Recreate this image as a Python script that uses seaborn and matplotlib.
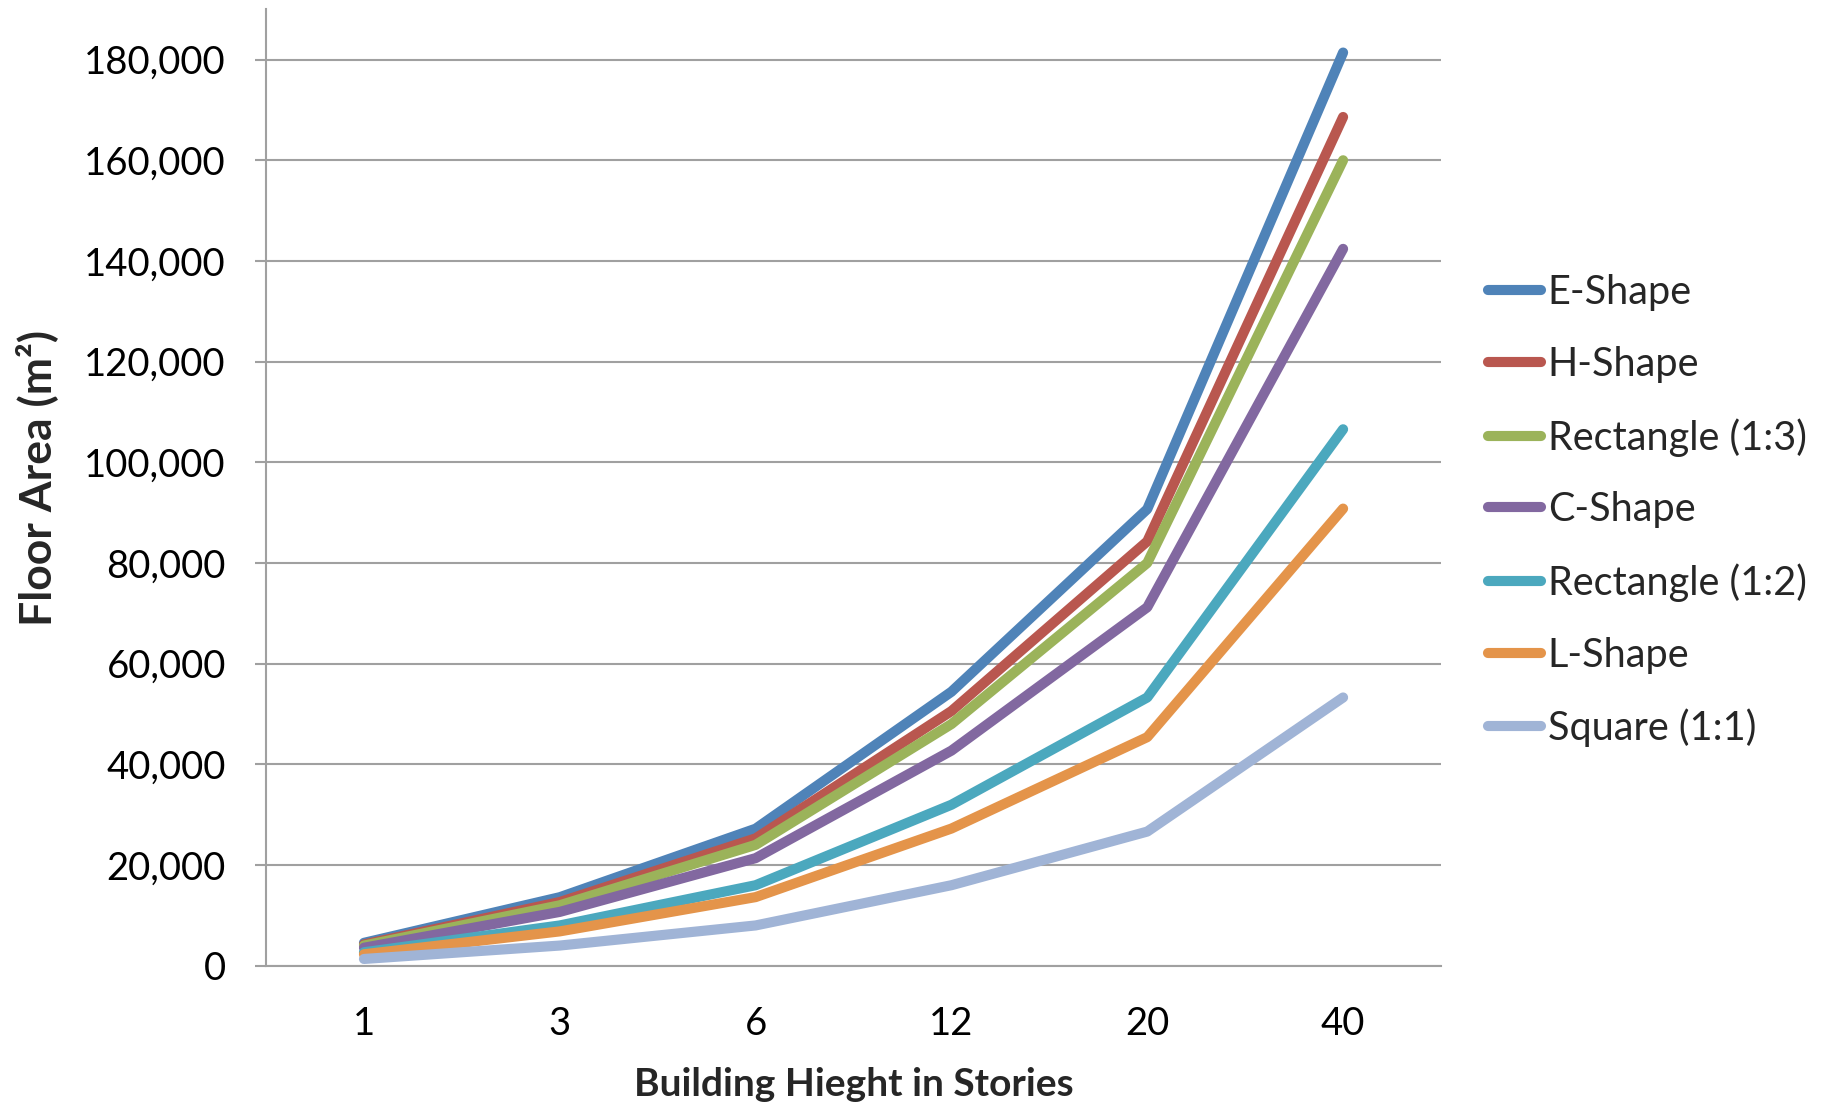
import matplotlib
matplotlib.use("Agg")
import matplotlib.pyplot as plt
import seaborn as sns
import pandas as pd
import numpy as np
from matplotlib.ticker import FuncFormatter, FixedLocator

# Building height categories (number of stories)
stories = ["1", "3", "6", "12", "20", "40"]

# Total floor area (m²) per footprint shape
e_shape = [4535, 13605, 27210, 54420, 90700, 181400]
h_shape = [4215, 12645, 25290, 50580, 84300, 168600]
rect_13 = [4000, 12000, 24000, 48000, 80000, 160000]
c_shape = [3560, 10680, 21360, 42720, 71200, 142400]
rect_12 = [2664, 7992, 15984, 31968, 53280, 106560]
l_shape = [2270, 6810, 13620, 27240, 45400, 90800]
square_11 = [1332, 3996, 7992, 15984, 26640, 53280]

series_names = ["E-Shape", "H-Shape", "Rectangle (1:3)", "C-Shape",
                "Rectangle (1:2)", "L-Shape", "Square (1:1)"]
series_values = [e_shape, h_shape, rect_13, c_shape, rect_12, l_shape, square_11]
colors = ["#4F83B8", "#B9574F", "#9BB35A", "#8268A0",
          "#4BA8BE", "#E4944A", "#A0B4D6"]

rows = []
for name, vals in zip(series_names, series_values):
    for i, v in enumerate(vals):
        rows.append({"pos": i, "Stories": stories[i], "Area": v, "Shape": name})
df = pd.DataFrame(rows)

sns.set_theme(style="white")
plt.rcParams["font.family"] = ["Lato", "DejaVu Sans"]

fig = plt.figure(figsize=(18.31, 11.04), dpi=100)
ax = fig.add_axes([0.1453, 0.1253, 0.787 - 0.1453, 0.9916 - 0.1253])

sns.lineplot(data=df, x="pos", y="Area", hue="Shape", hue_order=series_names,
             palette=colors, linewidth=7.3, sort=False, ax=ax, legend=True)
for ln in ax.get_lines():
    ln.set_solid_capstyle("round")
    ln.set_solid_joinstyle("round")

grid_c = "#A0A0A0"
ax.set_xlim(-0.5, 5.5)
ax.set_ylim(0, 190000)
ax.set_yticks(np.arange(0, 180001, 20000))
ax.yaxis.set_major_formatter(FuncFormatter(lambda v, p: f"{int(v):,}"))
ax.yaxis.grid(True, color=grid_c, linewidth=1.5)
ax.set_axisbelow(True)

ax.set_xticks(range(len(stories)))
ax.set_xticklabels(stories)
ax.xaxis.set_minor_locator(FixedLocator(np.arange(-0.5, 5.6, 1.0)))
ax.tick_params(axis="x", which="major", length=0, pad=29, labelsize=27.5, colors="black")
ax.tick_params(axis="x", which="minor", length=8, width=1.5, color=grid_c, direction="out")
ax.tick_params(axis="y", which="major", length=8, width=1.5, color=grid_c, direction="out",
               pad=21, labelsize=27.5, labelcolor="black", left=True)

for s in ["top", "right"]:
    ax.spines[s].set_visible(False)
for s in ["left", "bottom"]:
    ax.spines[s].set_color(grid_c)
    ax.spines[s].set_linewidth(1.5)

ax.set_xlabel("Building Hieght in Stories", fontsize=28, fontweight="bold", labelpad=0)
ax.set_ylabel("Floor Area (m²)", fontsize=32, fontweight="bold")
ax.xaxis.set_label_coords(0.5, -0.106)
ax.yaxis.set_label_coords(-0.177, 0.51)

handles, labels = ax.get_legend_handles_labels()
ax.legend(handles, labels, loc="upper left", bbox_to_anchor=(1.04, 0.723),
          frameon=False, fontsize=28.5, handlelength=1.33, handletextpad=0.18,
          labelspacing=0.88, borderpad=0, borderaxespad=0)

fig.savefig("out.png", dpi=100, facecolor="white")
